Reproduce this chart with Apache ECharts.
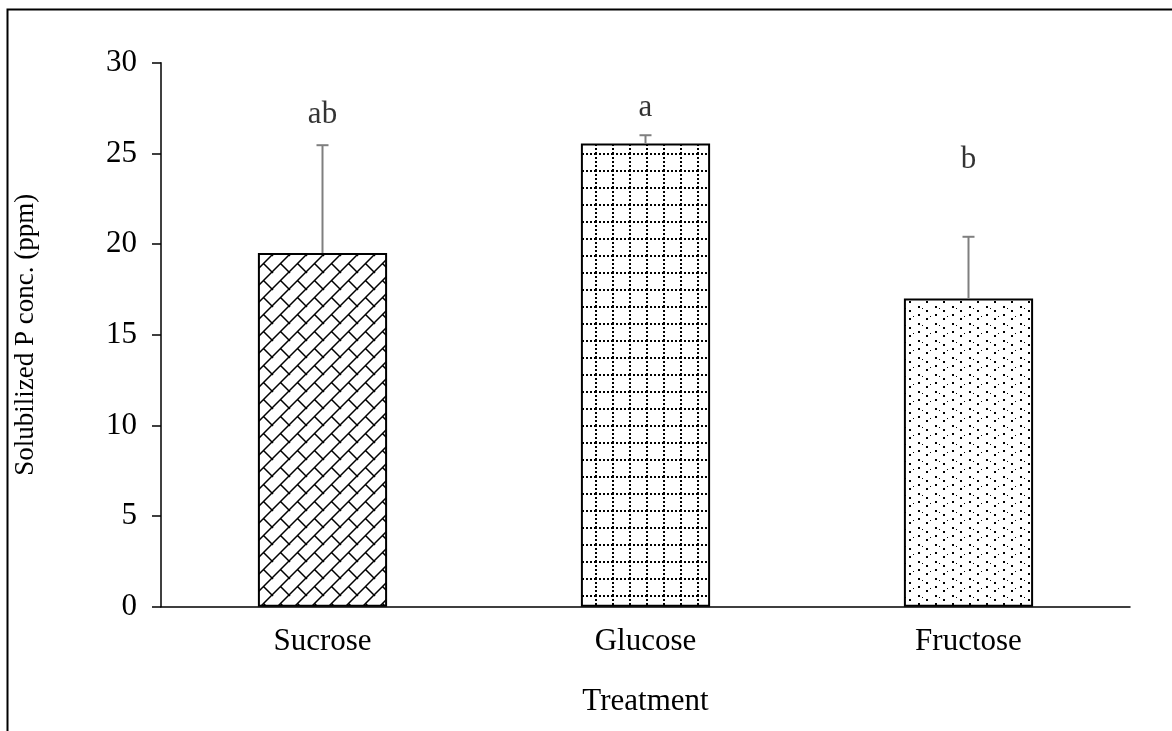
<!DOCTYPE html>
<html>
<head>
<meta charset="utf-8">
<script src="https://cdn.jsdelivr.net/npm/echarts@6/dist/echarts.min.js"></script>
<style>html,body{margin:0;padding:0;background:#fff;}#main{width:1172px;height:731px;}</style>
</head>
<body>
<div id="main"></div>
<script>
var categories = ['Sucrose', 'Glucose', 'Fructose'];
var means = [19.5, 25.55, 17.0];
var errors = [5.95, 0.45, 3.4];
var letters = ['ab', 'a', 'b'];
var letterY = [27.1, 27.5, 24.65];
var yTicks = [0, 5, 10, 15, 20, 25, 30];

var FONT = 'Liberation Serif';
var T = 17;

function makeTile(draw) {
  var c = document.createElement('canvas');
  c.width = T; c.height = T;
  var ctx = c.getContext('2d');
  ctx.fillStyle = '#fff';
  ctx.fillRect(0, 0, T, T);
  draw(ctx);
  return c;
}
var brick = makeTile(function (ctx) {
  ctx.strokeStyle = '#000';
  ctx.lineWidth = 1.5;
  ctx.beginPath();
  for (var k = -1; k <= 1; k++) {
    ctx.moveTo(k * T - 2, T + 2); ctx.lineTo(k * T + T + 2, -2);
  }
  ctx.moveTo(T / 2, T / 2); ctx.lineTo(T + 1, T + 1);
  ctx.moveTo(-T / 2, -T / 2); ctx.lineTo(1, 1);
  ctx.stroke();
});
var grid = makeTile(function (ctx) {
  ctx.fillStyle = '#000';
  for (var i = 0; i < T; i += 4) {
    ctx.fillRect(i, 0, 2, 2);
    ctx.fillRect(0, i, 2, 2);
  }
});
var dots = makeTile(function (ctx) {
  ctx.fillStyle = '#000';
  ctx.fillRect(0, 0, 2, 2);
  ctx.fillRect(8, 4, 2, 2);
  ctx.fillRect(0, 8, 2, 2);
  ctx.fillRect(8, 12, 2, 2);
  ctx.fillRect(4, 2, 1, 1);
  ctx.fillRect(12, 10, 1, 1);
});
var patterns = [brick, grid, dots];

var chart = echarts.init(document.getElementById('main'), null, {renderer: 'canvas'});
chart.setOption({
  animation: false,
  backgroundColor: '#fff',
  graphic: [{
    type: 'rect', left: 5, top: 7, shape: {width: 1400, height: 1400},
    style: {fill: 'none', stroke: '#000', lineWidth: 2}, silent: true, z: -1
  }],
  grid: {left: 161, right: 42, top: 62.7, bottom: 124.3, containLabel: false},
  xAxis: {
    type: 'category', data: categories,
    name: 'Treatment', nameLocation: 'middle', nameGap: 80,
    nameTextStyle: {fontFamily: FONT, fontSize: 31, color: '#000'},
    axisLine: {lineStyle: {color: '#000', width: 1.5}},
    axisTick: {show: false},
    axisLabel: {fontFamily: FONT, fontSize: 31, color: '#000', margin: 20}
  },
  yAxis: {
    type: 'value', min: 0, max: 30, interval: 5,
    name: 'Solubilized P conc. (ppm)', nameLocation: 'middle', nameGap: 122,
    nameTextStyle: {fontFamily: FONT, fontSize: 27, color: '#000'},
    axisLine: {show: true, lineStyle: {color: '#000', width: 1.5}},
    axisTick: {show: true, length: 9, lineStyle: {color: '#000', width: 1.5}},
    axisLabel: {fontFamily: FONT, fontSize: 31, color: '#000', margin: 24,
      formatter: function (v) { return yTicks.indexOf(v) >= 0 ? String(v) : ''; }},
    splitLine: {show: false}
  },
  series: [{
    type: 'bar', barWidth: '40%', z: 2,
    data: means.map(function (v, i) {
      return {value: v, itemStyle: {color: {image: patterns[i], repeat: 'repeat'}, borderColor: '#000', borderWidth: 2}};
    })
  }, {
    type: 'custom', z: 5,
    renderItem: function (params, api) {
      var i = api.value(0);
      var lo = api.coord([i, api.value(1)]);
      var hi = api.coord([i, api.value(2)]);
      var w = 6;
      return {type: 'group', children: [
        {type: 'line', shape: {x1: lo[0], y1: lo[1], x2: hi[0], y2: hi[1]}, style: {stroke: '#7f7f7f', lineWidth: 2}},
        {type: 'line', shape: {x1: hi[0] - w, y1: hi[1], x2: hi[0] + w, y2: hi[1]}, style: {stroke: '#7f7f7f', lineWidth: 2}}
      ]};
    },
    data: means.map(function (v, i) { return [i, v, v + errors[i]]; })
  }, {
    type: 'scatter', symbolSize: 0, z: 6,
    data: letterY.map(function (v, i) { return [i, v]; }),
    label: {show: true, position: 'inside', fontFamily: FONT, fontSize: 31, color: '#000',
      formatter: function (p) { return letters[p.dataIndex]; }}
  }]
});
</script>
</body>
</html>
